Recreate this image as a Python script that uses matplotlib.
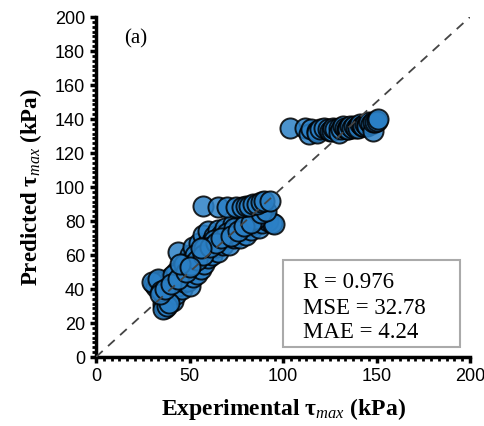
import matplotlib
matplotlib.use("Agg")
import matplotlib.pyplot as plt
from matplotlib.patches import Rectangle
from matplotlib.ticker import MultipleLocator, AutoMinorLocator

plt.rcParams['mathtext.fontset'] = 'custom'
plt.rcParams['mathtext.rm'] = 'Liberation Serif'
plt.rcParams['mathtext.it'] = 'Liberation Serif:italic'
plt.rcParams['mathtext.bf'] = 'Liberation Serif:bold'

# Experimental vs predicted tau_max (kPa)
exp_low = [31, 32, 33, 34, 35, 36, 37, 37, 38, 38, 39, 40, 40, 41, 42, 42, 43, 43, 44, 44,
           45, 46, 46, 47, 48, 48, 49, 50, 50, 51, 52, 52, 53, 54, 55, 55, 56, 57, 57, 58,
           59, 60, 60, 61, 62, 62, 63, 64, 65, 65, 66, 67, 68, 69, 70, 71, 72, 73, 74, 75,
           76, 77, 78, 79, 80, 81, 82, 83, 84, 85, 86, 87, 88, 89, 90, 92, 94, 95,
           36, 38, 39, 30, 33, 35, 41, 47, 53, 58, 63, 70, 74, 80, 85,
           34, 37, 40, 44, 48, 51, 54, 57, 61, 64, 67, 72, 76, 79, 83, 88, 91, 45, 50, 56]
pred_low = [43, 41, 45, 40, 44, 31, 29, 35, 33, 38, 42, 36, 47, 33, 39, 44, 37, 50, 62, 42,
            47, 40, 52, 44, 56, 49, 45, 60, 42, 51, 47, 65, 55, 49, 58, 67, 52, 62, 72, 55,
            66, 58, 74, 63, 68, 60, 71, 65, 62, 75, 68, 72, 66, 76, 70, 66, 74, 78, 70, 73,
            77, 70, 75, 80, 72, 77, 82, 75, 80, 78, 83, 76, 81, 79, 84, 80, 79, 78,
            28, 30, 32, 44, 46, 39, 48, 55, 60, 64, 69, 73, 76, 78, 81,
            37, 40, 43, 46, 50, 54, 57, 60, 65, 67, 70, 71, 74, 77, 79, 85, 86, 55, 53, 64]
exp_mid = [57, 65, 70, 75, 78, 80, 82, 84, 86, 88, 90, 93]
pred_mid = [89, 88, 88, 88, 88, 89, 89, 90, 90, 91, 92, 92]
exp_high = [104, 112, 114, 115, 118, 118, 120, 122, 124, 125, 126, 127, 128, 130, 130, 131,
            132, 133, 134, 135, 135, 136, 137, 138, 139, 140, 140, 141, 142, 143, 144, 145,
            145, 146, 147, 148, 148, 149, 150, 151]
pred_high = [135, 135, 131, 134, 133, 132, 134, 135, 134, 133, 133, 135, 134, 135, 132, 134,
             136, 135, 134, 135, 134, 136, 135, 136, 135, 136, 135, 137, 136, 136, 137, 137,
             136, 138, 137, 133, 138, 138, 139, 140]

stats_lines = ["R = 0.976", "MSE = 32.78", "MAE = 4.24"]

fig = plt.figure(figsize=(4.84, 4.26), dpi=100)
ax = fig.add_axes([96/484, 1 - 357/426, (470-96)/484, (357-17)/426])

ax.plot([0, 200], [0, 200], linestyle=(0, (5, 4)), color='#444444', lw=1.3, zorder=3)

ex = exp_low + exp_mid + exp_high
pr = pred_low + pred_mid + pred_high
ax.scatter(ex, pr, s=210, facecolor='#2b80c6', edgecolor='black', linewidths=1.4,
           alpha=0.85, zorder=2)

ax.set_xlim(0, 200)
ax.set_ylim(0, 200)
ax.xaxis.set_major_locator(MultipleLocator(50))
ax.yaxis.set_major_locator(MultipleLocator(20))
ax.xaxis.set_minor_locator(AutoMinorLocator(12))
ax.yaxis.set_minor_locator(AutoMinorLocator(7))
for s in ['top', 'right']:
    ax.spines[s].set_visible(False)
for s in ['left', 'bottom']:
    ax.spines[s].set_linewidth(2.5)
ax.tick_params(which='major', direction='out', length=4, width=2.5, labelsize=13, pad=4)
ax.tick_params(which='minor', direction='out', length=3, width=2)
for lab in ax.get_xticklabels() + ax.get_yticklabels():
    lab.set_fontfamily('Liberation Sans')

ax.set_xlabel(r'Experimental $\mathbf{\tau}_{max}$ (kPa)', fontfamily='Liberation Serif',
              fontweight='bold', fontsize=17, labelpad=8)
ax.set_ylabel(r'Predicted $\mathbf{\tau}_{max}$ (kPa)', fontfamily='Liberation Serif',
              fontweight='bold', fontsize=16.5, labelpad=8)

ax.text(0.075, 0.965, '(a)', transform=ax.transAxes, fontfamily='Liberation Serif',
        fontsize=15, va='top', ha='left')

ax.add_patch(Rectangle((0.50, 0.029), 0.473, 0.256, transform=ax.transAxes,
                       facecolor='white', edgecolor='#aaaaaa', lw=1.5, zorder=5))
for line, yy in zip(stats_lines, [0.218, 0.144, 0.071]):
    ax.text(0.553, yy, line, transform=ax.transAxes, fontfamily='Liberation Serif',
            fontsize=16.5, va='center', ha='left', zorder=6)

fig.savefig('out.png', dpi=100)
